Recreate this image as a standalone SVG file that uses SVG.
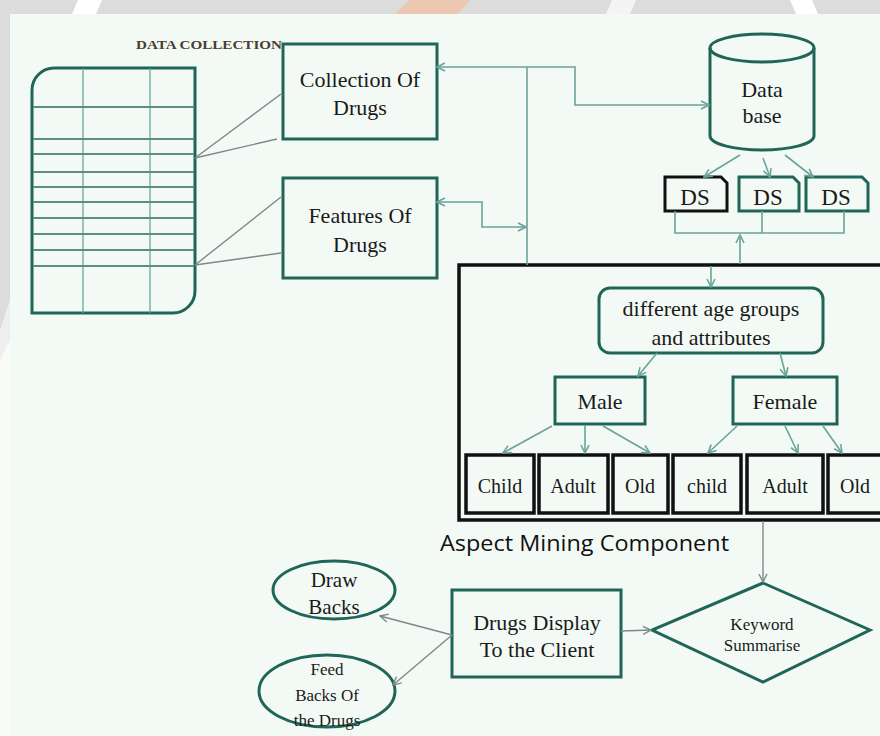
<svg xmlns="http://www.w3.org/2000/svg" width="880" height="736" viewBox="0 0 880 736">
<defs>
<style>
.bx{fill:none;stroke:#1f6659;stroke-width:3}
.bk{fill:none;stroke:#111;stroke-width:3.5}
.t{font-family:"Liberation Serif","Times New Roman",serif;fill:#1a1a1a;text-anchor:middle}
.c{fill:none;stroke:#6aa39b;stroke-width:1.6}
.g{fill:none;stroke:#7a8a86;stroke-width:1.4}
.tl{fill:none;stroke:#5f8c83;stroke-width:2}
.tv{fill:none;stroke:#5aa398;stroke-width:1.2}
</style>
<marker id="a" viewBox="0 0 10 10" refX="9" refY="5" markerWidth="10" markerHeight="10" markerUnits="userSpaceOnUse" orient="auto-start-reverse">
<path d="M1,1 L9,5 L1,9" fill="none" stroke="#6aa39b" stroke-width="1.6"/>
</marker>
<marker id="ag" viewBox="0 0 10 10" refX="9" refY="5" markerWidth="10" markerHeight="10" markerUnits="userSpaceOnUse" orient="auto-start-reverse">
<path d="M1,1 L9,5 L1,9" fill="none" stroke="#7a8a86" stroke-width="1.4"/>
</marker>
</defs>
<!-- background -->
<rect x="0" y="0" width="880" height="736" fill="#f9fbf9"/>
<rect x="0" y="0" width="880" height="14" fill="#dcdcdc"/>
<rect x="0" y="0" width="10" height="330" fill="#dcdcdc"/>
<polygon points="0,330 10,300 10,340 0,360" fill="#eeeeee"/>
<polygon points="78,0 102,0 96,14 72,14" fill="#ffffff"/>
<polygon points="612,0 636,0 630,14 606,14" fill="#f4f4f4"/>
<polygon points="790,0 812,0 818,14 796,14" fill="#ffffff"/>
<polygon points="395,14 410,0 470,0 458,14" fill="#f3c2a8" opacity="0.8"/>
<rect x="10" y="14" width="870" height="722" fill="#f3faf5"/>

<text x="209" y="49" font-family="Liberation Serif,serif" font-weight="bold" font-size="12" fill="#4a3d30" text-anchor="middle" textLength="146" lengthAdjust="spacingAndGlyphs">DATA COLLECTION</text>

<g id="table">
<path d="M32,313 L32,90 A22,22 0 0 1 54,68 L195,68 L195,291 A22,22 0 0 1 173,313 Z" class="bx"/>
<line x1="83" y1="68" x2="83" y2="313" class="tv"/>
<line x1="150" y1="68" x2="150" y2="313" class="tv"/>
<g class="tl">
<line x1="33" y1="107" x2="194" y2="107"/>
<line x1="33" y1="139" x2="194" y2="139"/>
<line x1="33" y1="154" x2="194" y2="154"/>
<line x1="33" y1="172" x2="194" y2="172"/>
<line x1="33" y1="187" x2="194" y2="187"/>
<line x1="33" y1="202" x2="194" y2="202"/>
<line x1="33" y1="218" x2="194" y2="218"/>
<line x1="33" y1="234" x2="194" y2="234"/>
<line x1="33" y1="250" x2="194" y2="250"/>
<line x1="33" y1="266" x2="194" y2="266"/>
</g>
</g>

<g id="collection">
<rect x="283" y="44" width="154" height="95" class="bx"/>
<text class="t" font-size="22" x="360" y="87">Collection Of</text>
<text class="t" font-size="22" x="360" y="115">Drugs</text>
</g>
<g id="features">
<rect x="283" y="178" width="154" height="100" class="bx"/>
<text class="t" font-size="22" x="360" y="223">Features Of</text>
<text class="t" font-size="22" x="360" y="252">Drugs</text>
</g>

<g id="database">
<path d="M710,48 L710,136 A52,14 0 0 0 814,136 L814,48" fill="#f3faf5" class="bx"/>
<ellipse cx="762" cy="48" rx="52" ry="14" fill="#f3faf5" class="bx"/>
<text class="t" font-size="22" x="762" y="97">Data</text>
<text class="t" font-size="22" x="762" y="123">base</text>
</g>

<g id="ds1">
<path d="M665,177 H721 L727,183 V211 H665 Z" fill="none" stroke="#111" stroke-width="3"/>
<text class="t" font-size="23" x="695" y="205">DS</text>
</g>
<g id="ds2">
<path d="M739,177 H793 L799,183 V211 H739 Z" class="bx"/>
<text class="t" font-size="23" x="768" y="205">DS</text>
</g>
<g id="ds3">
<path d="M806,177 H862 L868,183 V211 H806 Z" class="bx"/>
<text class="t" font-size="23" x="836" y="205">DS</text>
</g>

<g id="aspect-mining">
<rect x="459" y="265" width="440" height="255" class="bk" stroke="#000" stroke-width="4"/>
<text x="440" y="551" font-family="Open Sans,sans-serif" font-size="21" fill="#111" textLength="289" lengthAdjust="spacingAndGlyphs">Aspect  Mining Component</text>
</g>

<g id="age">
<rect x="599" y="288" width="224" height="65" rx="11" class="bx"/>
<text class="t" font-size="22" x="711" y="316">different age groups</text>
<text class="t" font-size="22" x="711" y="345">and attributes</text>
</g>
<g id="male">
<rect x="555" y="377" width="90" height="47" class="bx"/>
<text class="t" font-size="22" x="600" y="409">Male</text>
</g>
<g id="female">
<rect x="733" y="377" width="104" height="47" class="bx"/>
<text class="t" font-size="22" x="785" y="409">Female</text>
</g>

<g id="child-m"><rect x="466" y="455" width="68" height="58" class="bk"/><text class="t" font-size="20" x="500" y="493">Child</text></g>
<g id="adult-m"><rect x="539" y="455" width="69" height="58" class="bk"/><text class="t" font-size="20" x="573" y="493">Adult</text></g>
<g id="old-m"><rect x="613" y="455" width="55" height="58" class="bk"/><text class="t" font-size="20" x="640" y="493">Old</text></g>
<g id="child-f"><rect x="673" y="455" width="68" height="58" class="bk"/><text class="t" font-size="20" x="707" y="493">child</text></g>
<g id="adult-f"><rect x="747" y="455" width="76" height="58" class="bk"/><text class="t" font-size="20" x="785" y="493">Adult</text></g>
<g id="old-f"><rect x="828" y="455" width="60" height="58" class="bk"/><text class="t" font-size="20" x="855" y="493">Old</text></g>

<g id="keyword">
<polygon points="763,583 870,630 763,682 652,630" class="bx"/>
<text class="t" font-size="17" x="762" y="630">Keyword</text>
<text class="t" font-size="17" x="762" y="651">Summarise</text>
</g>

<g id="display">
<rect x="452" y="590" width="169" height="87" class="bx"/>
<text class="t" font-size="22" x="537" y="630">Drugs Display</text>
<text class="t" font-size="22" x="537" y="657">To the Client</text>
</g>

<g id="drawbacks">
<ellipse cx="334" cy="590" rx="61" ry="29" class="bx"/>
<text class="t" font-size="21" x="334" y="587">Draw</text>
<text class="t" font-size="21" x="334" y="614">Backs</text>
</g>
<g id="feedbacks">
<ellipse cx="327" cy="691" rx="68" ry="36" class="bx"/>
<text class="t" font-size="17" x="327" y="675">Feed</text>
<text class="t" font-size="17" x="327" y="701">Backs Of</text>
<text class="t" font-size="17" x="327" y="726">the Drugs</text>
</g>

<g id="connectors">
<path d="M437,67 H575 V105 H709" class="c" marker-start="url(#a)" marker-end="url(#a)"/>
<line x1="527" y1="67" x2="527" y2="265" class="c"/>
<path d="M437,202 H482 V227 H526" class="c" marker-start="url(#a)" marker-end="url(#a)"/>
<line x1="740" y1="155" x2="704" y2="177" class="c" marker-end="url(#a)"/>
<line x1="763" y1="158" x2="770" y2="177" class="c" marker-end="url(#a)"/>
<line x1="785" y1="155" x2="813" y2="177" class="c" marker-end="url(#a)"/>
<path d="M675,211 V233 H844 V211 M762,211 V233" class="c"/>
<line x1="740" y1="264" x2="740" y2="235" class="c" marker-end="url(#a)"/>
<line x1="711" y1="266" x2="711" y2="287" class="c" marker-end="url(#a)"/>
<line x1="657" y1="353" x2="638" y2="376" class="c" marker-end="url(#a)"/>
<line x1="780" y1="353" x2="786" y2="376" class="c" marker-end="url(#a)"/>
<line x1="552" y1="426" x2="503" y2="453" class="c" marker-end="url(#a)"/>
<line x1="585" y1="425" x2="585" y2="453" class="c" marker-end="url(#a)"/>
<line x1="603" y1="426" x2="650" y2="453" class="c" marker-end="url(#a)"/>
<line x1="737" y1="426" x2="708" y2="453" class="c" marker-end="url(#a)"/>
<line x1="785" y1="426" x2="798" y2="453" class="c" marker-end="url(#a)"/>
<line x1="823" y1="426" x2="842" y2="453" class="c" marker-end="url(#a)"/>
<line x1="763" y1="521" x2="763" y2="582" class="g" stroke="#3e6f66" marker-end="url(#ag)"/>
<line x1="621" y1="631" x2="651" y2="630" class="g" marker-end="url(#ag)"/>
<line x1="452" y1="635" x2="380" y2="616" class="g" marker-end="url(#ag)"/>
<line x1="452" y1="635" x2="393" y2="685" class="g" marker-end="url(#ag)"/>
<line x1="195" y1="158" x2="281" y2="94" class="g"/>
<line x1="195" y1="158" x2="277" y2="139" class="g"/>
<line x1="195" y1="265" x2="281" y2="197" class="g"/>
<line x1="195" y1="265" x2="281" y2="253" class="g"/>
</g>
</svg>
